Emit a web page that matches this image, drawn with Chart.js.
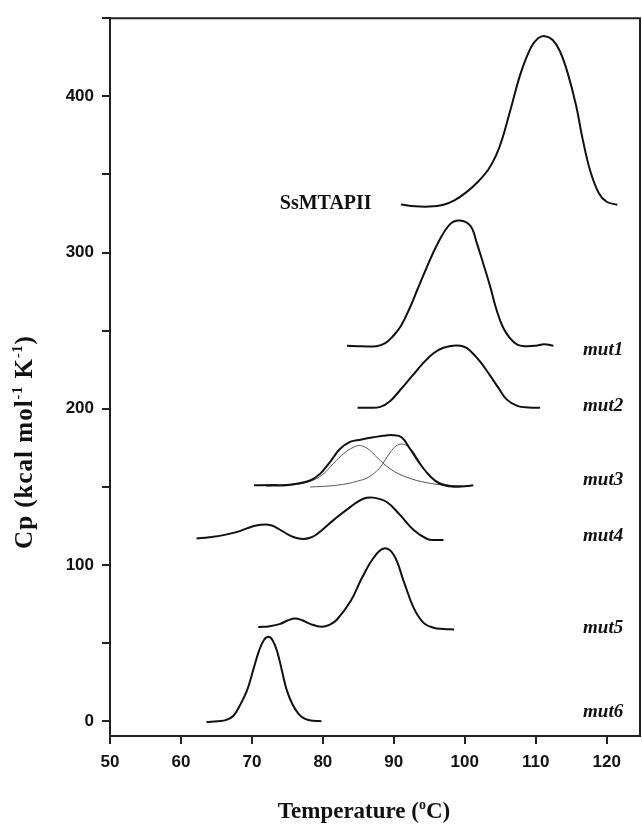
<!DOCTYPE html>
<html>
<head>
<meta charset="utf-8">
<script src="https://cdn.jsdelivr.net/npm/chart.js@4.4.1/dist/chart.umd.min.js"></script>
<style>
  html, body { margin: 0; padding: 0; background: #fff; }
  #wrap { width: 642px; height: 825px; }
</style>
</head>
<body>
<div id="wrap"><canvas id="dsc" width="642" height="825"></canvas></div>
<script>
// DSC thermograms, [temperature ºC, Cp] (curves are stacked)
const ssmtapii = [[91.0,330.8],[93.0,329.6],[95.0,329.4],[97.0,330.6],[98.6,333.6],[100.2,338.5],[101.8,345],[103.3,353],[104.4,362],[105.3,373],[106.6,394],[107.9,415],[109.3,431],[110.3,437],[111.3,438.5],[112.4,436],[113.4,429],[114.5,415],[115.7,394],[116.6,373],[117.7,352],[118.9,338],[120.0,332.5],[121.5,330.6]];
const mut1 = [[83.4,240.3],[85.5,240],[87.5,240],[88.8,242],[89.8,246],[91.0,253],[92.2,264],[93.3,276],[94.6,290],[96.1,305],[97.9,318],[99.3,320.5],[100.8,317],[101.7,306],[102.6,293],[103.6,278],[104.5,263],[105.4,252],[106.4,245],[107.4,241],[108.5,240],[110.0,240.3],[111.2,241.3],[112.5,240.3]];
const mut2 = [[84.9,200.7],[86.5,200.6],[88.1,201.2],[89.5,205],[90.9,212],[92.5,220.5],[94.2,229.5],[95.6,235.5],[97.0,239],[98.7,240.4],[100.0,239.5],[100.8,237],[102.2,230],[103.6,221],[104.8,213],[105.9,206],[107.4,201.8],[109.0,200.8],[110.6,200.6]];
const mut3 = [[70.3,151],[73.0,151.1],[75.4,151.4],[78.2,154.1],[79.6,158.3],[81.0,165.8],[82.4,174.2],[83.9,178.9],[85.3,180.2],[87.1,181.7],[88.5,182.7],[89.9,183.1],[91.1,181.7],[92.3,174.2],[93.7,164.7],[95.1,156.9],[96.5,152],[98.4,150.1],[100.0,150.4],[101.2,151]];
const mut3peak1 = [[72.0,150.3],[75.4,151],[78.2,153.5],[80.0,158],[81.5,165],[83.0,171.5],[84.3,175.3],[85.3,176.4],[86.4,174.2],[87.6,169],[89.5,161.5],[91.8,156.2],[94.7,152.6],[97.5,151],[99.8,150.6]];
const mut3peak2 = [[78.2,149.9],[81.0,150.6],[83.4,152],[85.0,153.8],[86.2,155.6],[87.3,159],[88.1,162.6],[89.5,172.1],[90.3,176],[91.1,177.4],[91.9,176.2],[92.8,172.1],[94.2,161.5],[95.6,154.8],[97.5,151.3],[99.5,150.4]];
const mut4 = [[62.2,117],[64.0,117.8],[66.0,119.1],[67.8,121],[69.3,123.4],[70.6,125.2],[71.9,125.9],[72.8,125.2],[73.5,123.8],[75.4,118.7],[76.3,117.2],[77.3,116.6],[78.2,117.4],[79.1,119.5],[81.5,128.7],[83.9,137.2],[85.7,142.4],[87.1,143.1],[89.0,140.3],[90.9,131.9],[92.8,122.3],[94.7,116.6],[96.0,116],[97.0,116]];
const mut5 = [[70.9,60.2],[72.5,60.8],[74.0,62.3],[75.1,64.6],[76.1,65.7],[77.1,64.6],[78.2,62.3],[79.8,60.4],[81.0,61.8],[82.0,65.1],[83.9,76.7],[85.5,91.6],[87.1,104.3],[88.6,110.6],[90.0,106.4],[91.4,89.5],[92.8,72.5],[94.2,62.9],[95.6,59.8],[97.0,59],[98.5,58.7]];
const mut6 = [[63.6,-0.5],[65.2,0],[66.4,0.8],[67.4,3.5],[68.3,10],[69.3,19.5],[70.2,33],[71.0,45],[71.7,52],[72.3,54],[72.9,52],[73.6,44],[74.3,31],[74.9,20],[75.7,11],[76.6,4.5],[77.5,1.5],[78.7,0.2],[79.8,0]];

const curveNames = ['SsMTAPII', 'mut1', 'mut2', 'mut3', 'mut4', 'mut5', 'mut6'];
const labelT = [80.4, 119.5, 119.5, 119.5, 119.5, 119.5, 119.5];
const labelCp = [331, 237.5, 201.5, 154.5, 118.5, 59.5, 6];

const xTicks = [50, 60, 70, 80, 90, 100, 110, 120];
const yTicks = [0, 50, 100, 150, 200, 250, 300, 350, 400, 450];
const yLabelled = [0, 100, 200, 300, 400];

function toXY(arr) {
    return arr.map(p => ({ x: p[0], y: p[1] }));
}

function thick(arr) {
    return { data: toXY(arr), borderColor: '#111', borderWidth: 2, pointRadius: 0, tension: 0.4 };
}

function thin(arr) {
    return { data: toXY(arr), borderColor: '#555', borderWidth: 1, pointRadius: 0, tension: 0.4 };
}

// curve names next to each trace
const curveLabels = {
    id: 'curveLabels',
    afterDatasetsDraw(chart) {
        const ctx = chart.ctx;
        const sx = chart.scales.x, sy = chart.scales.y;
        ctx.save();
        ctx.fillStyle = '#111';
        ctx.textAlign = 'center';
        ctx.textBaseline = 'middle';
        curveNames.forEach((name, i) => {
            ctx.font = name.startsWith('mut') ? 'italic bold 19px "Liberation Serif"' : 'bold 20px "Liberation Serif"';
            ctx.fillText(name, sx.getPixelForValue(labelT[i]), sy.getPixelForValue(labelCp[i]));
        });
        ctx.restore();
    }
};

function drawParts(ctx, parts, size, supSize, spacing) {
    let w = 0;
    parts.forEach(p => {
        ctx.font = 'bold ' + (p[1] ? supSize : size) + 'px "Liberation Serif"';
        ctx.letterSpacing = spacing + 'px';
        w += ctx.measureText(p[0]).width;
    });
    let x = -w / 2;
    parts.forEach(p => {
        ctx.font = 'bold ' + (p[1] ? supSize : size) + 'px "Liberation Serif"';
        ctx.letterSpacing = spacing + 'px';
        ctx.fillText(p[0], x, p[1] ? -size * 0.4 : 0);
        x += ctx.measureText(p[0]).width;
    });
}

// frame and axis titles
const frame = {
    id: 'frame',
    afterDraw(chart) {
        const ctx = chart.ctx;
        const a = chart.chartArea;
        ctx.save();
        ctx.strokeStyle = '#222';
        ctx.lineWidth = 2;
        ctx.beginPath();
        ctx.moveTo(a.left, a.top);
        ctx.lineTo(a.right, a.top);
        ctx.lineTo(a.right, a.bottom);
        ctx.stroke();

        ctx.fillStyle = '#111';
        ctx.textAlign = 'left';
        ctx.textBaseline = 'alphabetic';
        ctx.translate(364, 818);
        drawParts(ctx, [['Temperature (', false], ['o', true], ['C)', false]], 23, 14, 0);
        ctx.restore();

        ctx.save();
        ctx.fillStyle = '#111';
        ctx.textAlign = 'left';
        ctx.textBaseline = 'alphabetic';
        ctx.translate(32, 442);
        ctx.rotate(-Math.PI / 2);
        drawParts(ctx, [['Cp (kcal mol', false], ['-1', true], [' K', false], ['-1', true], [')', false]], 25, 14, 1);
        ctx.restore();
    }
};

new Chart(document.getElementById('dsc'), {
    type: 'line',
    data: {
        datasets: [thick(ssmtapii), thick(mut1), thick(mut2), thick(mut3), thin(mut3peak1), thin(mut3peak2), thick(mut4), thick(mut5), thick(mut6)]
    },
    options: {
        responsive: false,
        animation: false,
        devicePixelRatio: 1,
        layout: { padding: { top: 13, right: 2, left: 0, bottom: 0 } },
        plugins: { legend: { display: false }, tooltip: { enabled: false } },
        scales: {
            x: {
                type: 'linear',
                min: 50,
                max: 124.7,
                afterBuildTicks: axis => { axis.ticks = xTicks.map(v => ({ value: v })); },
                afterFit: axis => { axis.height = 89; },
                grid: { drawOnChartArea: false, drawTicks: true, tickLength: 8, color: '#222', lineWidth: 2 },
                border: { display: true, color: '#222', width: 2 },
                ticks: { color: '#111', padding: 8, maxRotation: 0, font: { family: '"Liberation Sans"', size: 17, weight: 'bold' } }
            },
            y: {
                min: -9.5,
                max: 450,
                afterBuildTicks: axis => { axis.ticks = yTicks.map(v => ({ value: v })); },
                afterFit: axis => { axis.width = 110; },
                grid: { drawOnChartArea: false, drawTicks: true, tickLength: 8, color: '#222', lineWidth: 2 },
                border: { display: true, color: '#222', width: 2 },
                ticks: {
                    color: '#111',
                    padding: 8,
                    font: { family: '"Liberation Sans"', size: 17, weight: 'bold' },
                    callback: v => yLabelled.includes(v) ? String(v) : ''
                }
            }
        }
    },
    plugins: [curveLabels, frame]
});
</script>
</body>
</html>
